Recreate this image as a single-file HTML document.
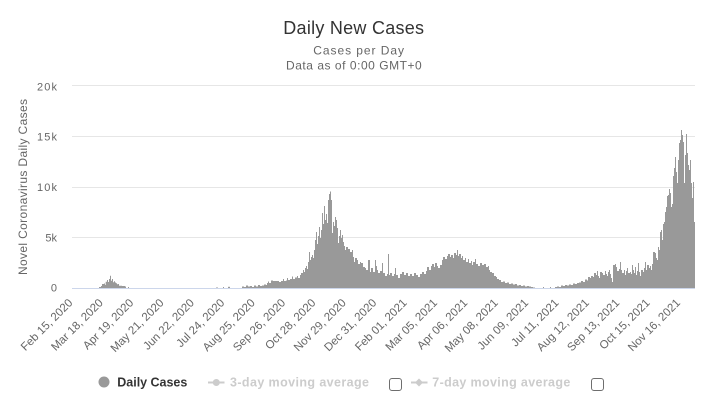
<!DOCTYPE html>
<html>
<head>
<meta charset="utf-8">
<style>
  html, body { margin: 0; padding: 0; background: #ffffff; }
  svg { display: block; font-family: "Liberation Sans", Arial, sans-serif; }
</style>
</head>
<body>
<svg width="721" height="409" viewBox="0 0 721 409" xmlns="http://www.w3.org/2000/svg">
  <rect x="0" y="0" width="721" height="409" fill="#ffffff"/>

  <!-- Titles -->
  <text x="283.3" y="34" font-size="18" fill="#333333" textLength="140.7" lengthAdjust="spacing">Daily New Cases</text>
  <text x="313.3" y="54.3" font-size="12" fill="#666666" textLength="90.7" lengthAdjust="spacing">Cases per Day</text>
  <text x="286" y="69.3" font-size="12" fill="#666666" textLength="135.7" lengthAdjust="spacing">Data as of 0:00 GMT+0</text>

  <!-- Grid lines -->
  <g stroke="#e6e6e6" stroke-width="1">
    <line x1="72" y1="85.5" x2="695" y2="85.5"/>
    <line x1="72" y1="136.5" x2="695" y2="136.5"/>
    <line x1="72" y1="187.5" x2="695" y2="187.5"/>
    <line x1="72" y1="237.5" x2="695" y2="237.5"/>
  </g>

  <!-- Y axis labels -->
  <g font-size="11" fill="#666666" text-anchor="end">
    <text x="57" y="90.5" textLength="20" lengthAdjust="spacing">20k</text>
    <text x="57" y="140.7" textLength="20" lengthAdjust="spacing">15k</text>
    <text x="57" y="191" textLength="20" lengthAdjust="spacing">10k</text>
    <text x="57" y="241.7">5k</text>
    <text x="57" y="291.7">0</text>
  </g>

  <!-- Y axis title -->
  <text transform="translate(27,275) rotate(-90)" x="0" y="0" font-size="12" fill="#666666" textLength="176" lengthAdjust="spacing">Novel Coronavirus Daily Cases</text>

  <!-- Bars -->
  <g fill="#999999">
    <path d="M99,288.5 V287 H101 V286 H102 V284 H104 V283.5 H105 V285 H105.7 V281.7 H107 V280 H108 V282 H109 V279 H110 V275.7 H111 V280.7 H112 V279 H113 V282.3 H114 V281.3 H115 V282.5 H116 V283.3 H117 V284.3 H118 V284 H119 V285.7 H122 V286 H125 V286.5 H126 V288.5 Z"/>
    <rect x="128" y="287" width="1" height="1.5"/>
    <rect x="216.5" y="287" width="1" height="1.5"/>
    <rect x="223" y="287" width="1" height="1.5"/>
    <rect x="228" y="286.8" width="2" height="1.7"/>
    <path d="M242,288.5 V286.5 H244 V287 H246 V285.5 H248 V286.5 H250 V286 H252 V287 H254 V285.5 H256 V286.5 H258 V285 H260 V286 H262 V285.5 H264 V284.5 H266 V285 H267 V283 H268 V281.5 H269 V283 H271 V280.5 H273 V281 H279 V282 H281 V281 H283 V279 H284 V281 H286 V280.5 H287 V278 H288 V280 H290 V279 H292 V276.5 H293 V279 H295 V277.5 H297 V276 H298 V278 H300 V275 H301 V273 H303 V270 H304 V272 H305 V268 H306 V266 H307 V269 H308 V262 H309 V252 H310 V260 H311 V257 H312 V255 H313 V258 H314 V250 H315 V240 H316 V232 H317 V244 H318 V236 H319 V227 H320 V238 H321 V230 H322 V213 H323 V224 H324 V206 H325 V220 H326 V214 H327 V223 H328 V200 H329 V194 H330 V191.5 H331 V200 H332 V233 H333 V222 H334 V226 H335 V217 H336 V220 H337 V228 H338 V243 H339 V236 H340 V230 H341 V238 H342 V235 H343 V242 H344 V246 H345 V250 H346 V247 H348 V249 H350 V252 H352 V250 H353 V257 H354 V262 H355 V258 H357 V260 H358 V264 H360 V262 H361 V263 H363 V267 H365 V268 H366 V270 H368 V260 H370 V272 H371 V268 H373 V272 H375 V260 H376 V266 H377 V270 H378 V273 H380 V271 H382 V263 H383 V273 H385 V276 H387 V274 H388 V254 H389 V275 H390 V273 H392 V276 H394 V274 H395 V268 H396 V275 H398 V278 H400 V274 H402 V272 H404 V275 H406 V273 H408 V276 H410 V274 H412 V276 H414 V273 H416 V275 H418 V277 H420 V274 H422 V272 H424 V274 H426 V271 H427 V267 H429 V270 H431 V266 H432 V264 H434 V267 H435 V263 H437 V266 H438 V268 H440 V265 H442 V260 H443 V257 H445 V259 H447 V256 H448 V254 H450 V257 H451 V255 H453 V258 H454 V253 H456 V255 H457 V250 H458 V256 H459 V254 H461 V258 H462 V256 H463 V260 H465 V258 H466 V262 H468 V259 H469 V263 H471 V261 H472 V265 H473 V262 H475 V259 H476 V264 H478 V266 H480 V263 H482 V265 H484 V264 H486 V267 H488 V266 H489 V270 H490 V272 H492 V273 H494 V276 H496 V277 H497 V279 H499 V280 H501 V282 H503 V281.5 H505 V283 H507 V282.5 H509 V284 H511 V283.5 H513 V284.5 H515 V284 H517 V285.5 H519 V285 H521 V286 H523 V285.5 H525 V286.5 H527 V286 H529 V286.5 H531 V287 H533 V287.5 H535 V288.5 Z"/>
    <rect x="543" y="287" width="1" height="1.5"/>
    <rect x="550" y="287" width="1" height="1.5"/>
    <path d="M555,288.5 V287 H557 V286.5 H559 V287 H561 V285.5 H563 V286 H565 V285 H567 V285.5 H569 V284.5 H571 V285 H573 V283.5 H575 V284 H577 V283 H579 V282.5 H581 V281 H583 V282 H585 V279.5 H587 V280.5 H588 V277 H590 V278 H591 V276 H593 V277 H594 V273 H596 V275 H597 V271 H598 V276 H599 V278 H600 V272 H602 V273 H603 V275 H605 V271 H606 V274 H607 V276 H608 V272 H609 V270 H610 V274 H611 V278 H612 V282 H613 V265 H615 V264 H616 V267 H617 V271 H619 V269 H620 V262 H621 V270 H622 V273 H624 V270 H625 V275 H626 V271 H627 V268 H628 V273 H630 V272 H631 V274 H632 V265 H633 V270 H634 V273 H635 V267 H636 V275 H637 V271 H638 V263 H639 V272 H640 V276 H641 V270 H643 V272 H644 V268 H645 V262 H646 V270 H647 V265 H649 V268 H650 V266 H651 V270 H652 V264 H653 V252 H655 V253 H656 V258 H657 V260 H658 V247 H659 V250 H660 V232 H661 V230 H662 V240 H663 V224 H664 V222 H665 V212 H666 V207 H667 V196 H668 V195 H669 V189 H670 V193 H671 V207 H672 V204 H673 V176 H674 V168 H675 V157 H676 V172 H677 V183 H678 V160 H679 V143 H680 V140 H681 V130 H682 V135 H683 V142 H684 V183 H685 V155 H686 V134 H687 V153 H688 V165 H689 V170 H690 V160 H691 V183 H692 V198 H693 V182 H694 V222 H695 V288.5 Z"/>
  </g>

  <!-- X axis line -->
  <line x1="72" y1="288.5" x2="695" y2="288.5" stroke="#ccd6eb" stroke-width="1"/>

  <!-- X axis labels -->
  <g font-size="11.5" fill="#666666" text-anchor="end">
    <text transform="translate(73.3,303.5) rotate(-45)">Feb 15, 2020</text>
    <text transform="translate(103.7,303.5) rotate(-45)">Mar 18, 2020</text>
    <text transform="translate(134.1,303.5) rotate(-45)">Apr 19, 2020</text>
    <text transform="translate(164.4,303.5) rotate(-45)">May 21, 2020</text>
    <text transform="translate(194.8,303.5) rotate(-45)">Jun 22, 2020</text>
    <text transform="translate(225.2,303.5) rotate(-45)">Jul 24, 2020</text>
    <text transform="translate(255.6,303.5) rotate(-45)">Aug 25, 2020</text>
    <text transform="translate(286.0,303.5) rotate(-45)">Sep 26, 2020</text>
    <text transform="translate(316.3,303.5) rotate(-45)">Oct 28, 2020</text>
    <text transform="translate(346.7,303.5) rotate(-45)">Nov 29, 2020</text>
    <text transform="translate(377.1,303.5) rotate(-45)">Dec 31, 2020</text>
    <text transform="translate(407.5,303.5) rotate(-45)">Feb 01, 2021</text>
    <text transform="translate(437.9,303.5) rotate(-45)">Mar 05, 2021</text>
    <text transform="translate(468.2,303.5) rotate(-45)">Apr 06, 2021</text>
    <text transform="translate(498.6,303.5) rotate(-45)">May 08, 2021</text>
    <text transform="translate(529.0,303.5) rotate(-45)">Jun 09, 2021</text>
    <text transform="translate(559.4,303.5) rotate(-45)">Jul 11, 2021</text>
    <text transform="translate(589.8,303.5) rotate(-45)">Aug 12, 2021</text>
    <text transform="translate(620.1,303.5) rotate(-45)">Sep 13, 2021</text>
    <text transform="translate(650.5,303.5) rotate(-45)">Oct 15, 2021</text>
    <text transform="translate(680.9,303.5) rotate(-45)">Nov 16, 2021</text>
  </g>

  <!-- Legend -->
  <circle cx="104" cy="382" r="5.5" fill="#999999"/>
  <text x="117.3" y="386.6" font-size="12.5" font-weight="bold" fill="#333333" textLength="70" lengthAdjust="spacing">Daily Cases</text>

  <line x1="208" y1="382.5" x2="224.5" y2="382.5" stroke="#cccccc" stroke-width="2"/>
  <circle cx="216.3" cy="382.5" r="3.5" fill="#cccccc"/>
  <text x="230" y="386.6" font-size="12.5" font-weight="bold" fill="#cccccc" textLength="139" lengthAdjust="spacing">3-day moving average</text>
  <rect x="389.5" y="378.5" width="12" height="12" rx="2.5" ry="2.5" fill="#ffffff" stroke="#6e6e6e" stroke-width="1"/>

  <line x1="411" y1="382.5" x2="427.5" y2="382.5" stroke="#cccccc" stroke-width="2"/>
  <path d="M419,378.5 L423,382.5 L419,386.5 L415,382.5 Z" fill="#cccccc"/>
  <text x="432.3" y="386.6" font-size="12.5" font-weight="bold" fill="#cccccc" textLength="138" lengthAdjust="spacing">7-day moving average</text>
  <rect x="591.5" y="378.5" width="12" height="12" rx="2.5" ry="2.5" fill="#ffffff" stroke="#6e6e6e" stroke-width="1"/>
</svg>
</body>
</html>
